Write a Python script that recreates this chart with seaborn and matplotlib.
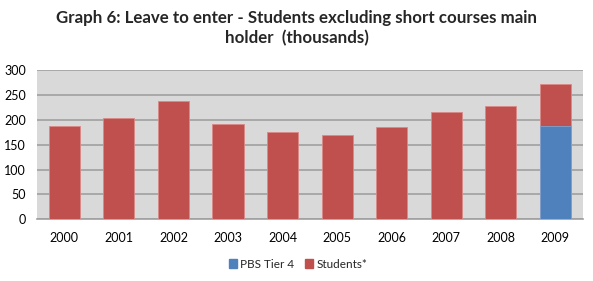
import matplotlib
matplotlib.use("Agg")
import matplotlib.pyplot as plt
import seaborn as sns
import pandas as pd
from matplotlib.patches import Patch

years = ["2000", "2001", "2002", "2003", "2004", "2005", "2006", "2007", "2008", "2009"]
totals = [187, 203, 238, 191, 176, 169, 185, 215, 227, 271]
pbs_tier4 = [0, 0, 0, 0, 0, 0, 0, 0, 0, 188]

title = "Graph 6: Leave to enter - Students excluding short courses main\nholder  (thousands)"
legend_labels = ["PBS Tier 4", "Students*"]
yticks = [0, 50, 100, 150, 200, 250, 300]

sns.set_theme(style="white")
plt.rcParams['font.family'] = ['Lato', 'DejaVu Sans']

red = "#C0504D"
blue = "#4F81BD"

df = pd.DataFrame({"year": years, "total": totals, "pbs": pbs_tier4})

fig = plt.figure(figsize=(5.93, 2.81), dpi=100)
ax = fig.add_axes([0.0624, 0.2196, 0.9202, 0.5313])
ax.set_facecolor("#D9D9D9")

sns.barplot(data=df, x="year", y="total", color=red, width=0.57, ax=ax,
            saturation=1, edgecolor="#D88A88", linewidth=0.6, zorder=3)
sns.barplot(data=df, x="year", y="pbs", color=blue, width=0.57, ax=ax,
            saturation=1, edgecolor="#7FA3D0", linewidth=0.6, zorder=4)

ax.set_xlim(-0.5, 9.5)
ax.set_ylim(0, 300)
ax.set_yticks(yticks)
ax.yaxis.grid(True, color="#A0A0A0", linewidth=1.2, zorder=1)
ax.set_axisbelow(True)
for s in ["top", "right", "left"]:
    ax.spines[s].set_visible(False)
ax.spines["bottom"].set_color("#A0A0A0")
ax.spines["bottom"].set_linewidth(1.2)
ax.set_xlabel("")
ax.set_ylabel("")
ax.tick_params(axis="both", length=0, labelsize=9, colors="#000000")
ax.tick_params(axis="x", pad=9)
ax.tick_params(axis="y", pad=8)

fig.text(0.5, 0.965, title, ha="center", va="top", fontsize=12.2,
         fontweight="bold", linespacing=1.3)

handles = [Patch(facecolor=blue, edgecolor=blue), Patch(facecolor=red, edgecolor=red)]
fig.legend(handles, legend_labels, loc="center", bbox_to_anchor=(0.503, 0.06),
           ncol=2, frameon=False, fontsize=8.5, handlelength=0.7, handleheight=0.7,
           handletextpad=0.3, columnspacing=0.9)

fig.savefig("out.png", dpi=100, facecolor="white")
